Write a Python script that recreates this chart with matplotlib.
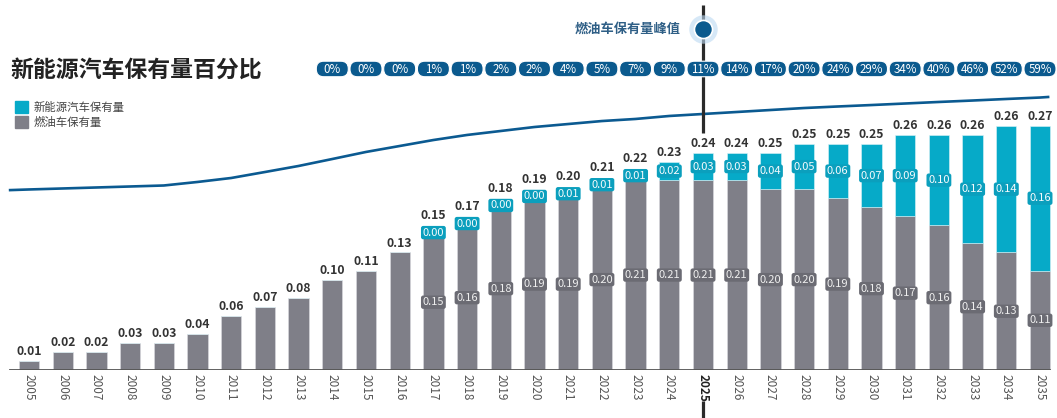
import matplotlib.pyplot as plt
from matplotlib.patches import FancyBboxPatch, Patch

plt.rcParams['font.family'] = ['Noto Sans CJK SC', 'DejaVu Sans']

# data
years = list(range(2005, 2036))
fuel = [0.01, 0.02, 0.02, 0.03, 0.03, 0.04, 0.06, 0.07, 0.08, 0.10, 0.11, 0.13,
        0.15, 0.16, 0.18, 0.19, 0.19, 0.20, 0.21, 0.21, 0.21, 0.21, 0.20, 0.20,
        0.19, 0.18, 0.17, 0.16, 0.14, 0.13, 0.11]
nev = [0, 0, 0, 0, 0, 0, 0, 0, 0, 0, 0, 0,
       0.004, 0.004, 0.004, 0.004, 0.01, 0.01, 0.01, 0.02, 0.03, 0.03, 0.04, 0.05,
       0.06, 0.07, 0.09, 0.10, 0.12, 0.14, 0.16]
totals = [0.01, 0.02, 0.02, 0.03, 0.03, 0.04, 0.06, 0.07, 0.08, 0.10, 0.11, 0.13,
          0.15, 0.17, 0.18, 0.19, 0.20, 0.21, 0.22, 0.23, 0.24, 0.24, 0.25, 0.25,
          0.25, 0.25, 0.26, 0.26, 0.26, 0.26, 0.27]
nev_label_from = 2017

share_years = list(range(2014, 2036))
share_pct = [0, 0, 0, 1, 1, 2, 2, 4, 5, 7, 9, 11, 14, 17, 20, 24, 29, 34, 40, 46, 52, 59]

curve_x = [2004.44] + years + [2035.24]
curve_y = [0.199, 0.1997, 0.2008, 0.2019, 0.2030, 0.2041, 0.2080, 0.2124, 0.2190,
           0.2257, 0.2334, 0.2412, 0.2478, 0.2544, 0.2600, 0.2644, 0.2688, 0.2721,
           0.2754, 0.2777, 0.2810, 0.2832, 0.2854, 0.2876, 0.2898, 0.2915, 0.2931,
           0.2948, 0.2965, 0.2981, 0.2998, 0.3014, 0.302]
peak_year = 2025
peak_label = "燃油车保有量峰值"

teal = "#06aac8"
gray = "#7f7f88"
navy = "#0b5a8e"

W, H = 1057, 418
fig = plt.figure(figsize=(W / 100, H / 100), dpi=100)
ax = fig.add_axes([0, 48 / H, 1, 1 - 48 / H])
ax.set_xlim(2005 - 29 / 33.7, 2005 + (W - 29) / 33.7)
ax.set_ylim(0, 370 / 904)
for s in ax.spines.values():
    s.set_visible(False)
ax.set_yticks([])

# bars
ax.bar(years, fuel, width=0.6, color=gray, edgecolor="#dcdce0", linewidth=0.4, zorder=2)
ax.bar(years, nev, width=0.6, bottom=fuel, color=teal, edgecolor="#dcf3f8", linewidth=0.4, zorder=2)
ax.axhline(0, xmin=10 / W, xmax=1050 / W, color="#555555", lw=1.3, zorder=3)

for yr, f, n, t in zip(years, fuel, nev, totals):
    top = f + n
    base = top
    if yr >= nev_label_from:
        ax.text(yr, f / 2, f"{f:.2f}", ha="center", va="center", fontsize=8,
                color="#eeeeee", zorder=4,
                bbox=dict(boxstyle="round,pad=0.15,rounding_size=0.2", fc="#6b6b73", ec="none"))
        nc = f + n / 2
        ax.text(yr, nc, f"{n:.2f}", ha="center", va="center", fontsize=8,
                color="#f4fbfd", zorder=4,
                bbox=dict(boxstyle="round,pad=0.15,rounding_size=0.2", fc="#0b9fbd", ec="none"))
        base = max(top, nc + 0.0085)
    ax.annotate(f"{t:.2f}", (yr, base), xytext=(0, 2), textcoords="offset points",
                ha="center", va="bottom", fontsize=8.8, fontweight="bold",
                color="#333333", zorder=4)

# trend curve
ax.plot(curve_x, curve_y, color="#0b5a91", lw=1.9, zorder=1, clip_on=False)

# peak marker line (upper part above the bar label, lower part below the tick label)
ax.plot([peak_year, peak_year], [0.262, 0.404], color="#2a2a2a", lw=2.3,
        zorder=1.5, clip_on=False, solid_capstyle="butt")
ax.plot([peak_year, peak_year], [-0.06, -0.034], color="#2a2a2a", lw=2.3,
        zorder=1.5, clip_on=False, solid_capstyle="butt")
ax.scatter([peak_year], [0.3772], s=420, color="#bcd9f2", alpha=0.6, zorder=5, clip_on=False, lw=0)
ax.scatter([peak_year], [0.3772], s=170, color=navy, edgecolor="white", lw=1.2, zorder=6, clip_on=False)
ax.text(peak_year - 0.65, 0.3772, peak_label, ha="right", va="center", fontsize=9.5,
        fontweight="bold", color="#2f5f86", zorder=6)

# percentage pills
py, ph = 0.333, 0.0172
for yr, p in zip(share_years, share_pct):
    box = FancyBboxPatch((yr - 0.475, py - ph / 2), 0.95, ph,
                         boxstyle="round,pad=0,rounding_size=0.22", mutation_aspect=0.0373,
                         fc=navy, ec="white", lw=0.8, zorder=7, clip_on=False)
    ax.add_patch(box)
    ax.text(yr, py - 0.0005, f"{p}%", ha="center", va="center", fontsize=8.3,
            color="white", zorder=8)

# x tick labels
ax.set_xticks(years)
ax.set_xticklabels([str(y) for y in years], rotation=270, fontsize=8.5, color="#555555")
ax.tick_params(axis="x", length=0, pad=3)
for lab in ax.get_xticklabels():
    if lab.get_text() == str(peak_year):
        lab.set_fontweight("bold")
        lab.set_color("#222222")

# title and legend
fig.text(10 / W, 1 - 70 / H, "新能源汽车保有量百分比", ha="left", va="center",
         fontsize=16.5, fontweight="bold", color="#222222")
handles = [Patch(color=teal), Patch(color=gray)]
fig.legend(handles, ["新能源汽车保有量", "燃油车保有量"], loc="upper left",
           bbox_to_anchor=(15 / W, 1 - 101 / H), frameon=False, fontsize=8.2,
           handlelength=1.1, handleheight=1.2, handletextpad=0.5, labelspacing=0.3,
           borderpad=0, borderaxespad=0, labelcolor="#444444")

fig.savefig("out.png", dpi=100)
